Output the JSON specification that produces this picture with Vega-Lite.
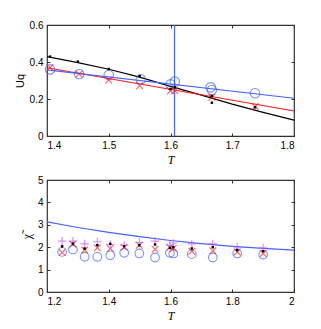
{
  "$schema": "https://vega.github.io/schema/vega-lite/v6.json",
  "padding": {"left": 13, "top": 19, "right": 5, "bottom": 5},
  "spacing": 44,
  "bounds": "flush",
  "datasets": {
    "topLines": [
      {"T": 1.4, "U": 0.429, "s": "black"}, {"T": 1.45, "U": 0.397, "s": "black"}, {"T": 1.5, "U": 0.361, "s": "black"},
      {"T": 1.55, "U": 0.318, "s": "black"}, {"T": 1.6, "U": 0.268, "s": "black"}, {"T": 1.65, "U": 0.221, "s": "black"},
      {"T": 1.7, "U": 0.172, "s": "black"}, {"T": 1.75, "U": 0.128, "s": "black"}, {"T": 1.8, "U": 0.086, "s": "black"},
      {"T": 1.4, "U": 0.369, "s": "red"}, {"T": 1.8, "U": 0.135, "s": "red"},
      {"T": 1.4, "U": 0.357, "s": "blue"}, {"T": 1.8, "U": 0.204, "s": "blue"}
    ],
    "topRule": [{"T": 1.6065}],
    "topPts": [
      {"T": 1.405, "U": 0.429, "s": "dot"}, {"T": 1.45, "U": 0.402, "s": "dot"}, {"T": 1.5, "U": 0.362, "s": "dot"},
      {"T": 1.55, "U": 0.324, "s": "dot"}, {"T": 1.6, "U": 0.254, "s": "dot"}, {"T": 1.607, "U": 0.263, "s": "dot"},
      {"T": 1.667, "U": 0.216, "s": "dot"}, {"T": 1.667, "U": 0.18, "s": "dot"}, {"T": 1.737, "U": 0.155, "s": "dot"},
      {"T": 1.405, "U": 0.37, "s": "x"}, {"T": 1.452, "U": 0.335, "s": "x"}, {"T": 1.5, "U": 0.303, "s": "x"},
      {"T": 1.55, "U": 0.272, "s": "x"}, {"T": 1.6, "U": 0.245, "s": "x"}, {"T": 1.607, "U": 0.245, "s": "x"},
      {"T": 1.667, "U": 0.209, "s": "x"}, {"T": 1.737, "U": 0.159, "s": "x"},
      {"T": 1.405, "U": 0.36, "s": "o"}, {"T": 1.452, "U": 0.335, "s": "o"}, {"T": 1.5, "U": 0.33, "s": "o"},
      {"T": 1.552, "U": 0.306, "s": "o"}, {"T": 1.6, "U": 0.279, "s": "o"}, {"T": 1.607, "U": 0.294, "s": "o"},
      {"T": 1.665, "U": 0.263, "s": "o"}, {"T": 1.667, "U": 0.249, "s": "o"}, {"T": 1.737, "U": 0.231, "s": "o"}
    ],
    "botLine": [
      {"T": 1.2, "C": 3.13}, {"T": 1.3, "C": 2.88}, {"T": 1.4, "C": 2.66}, {"T": 1.5, "C": 2.47}, {"T": 1.6, "C": 2.3},
      {"T": 1.7, "C": 2.16}, {"T": 1.8, "C": 2.04}, {"T": 1.9, "C": 1.95}, {"T": 2.0, "C": 1.87}
    ],
    "botPts": [
      {"T": 1.249, "C": 2.27, "s": "plus"}, {"T": 1.284, "C": 2.27, "s": "plus"}, {"T": 1.322, "C": 2.15, "s": "plus"},
      {"T": 1.363, "C": 2.24, "s": "plus"}, {"T": 1.405, "C": 2.12, "s": "plus"}, {"T": 1.45, "C": 2.09, "s": "plus"},
      {"T": 1.499, "C": 2.21, "s": "plus"}, {"T": 1.55, "C": 2.27, "s": "plus"}, {"T": 1.598, "C": 2.09, "s": "plus"},
      {"T": 1.609, "C": 2.19, "s": "plus"}, {"T": 1.669, "C": 2.15, "s": "plus"}, {"T": 1.737, "C": 2.15, "s": "plus"},
      {"T": 1.816, "C": 2.01, "s": "plus"}, {"T": 1.9, "C": 1.97, "s": "plus"},
      {"T": 1.249, "C": 2.04, "s": "dot"}, {"T": 1.284, "C": 2.16, "s": "dot"}, {"T": 1.322, "C": 1.94, "s": "dot"},
      {"T": 1.363, "C": 2.09, "s": "dot"}, {"T": 1.405, "C": 2.15, "s": "dot"}, {"T": 1.45, "C": 2.04, "s": "dot"},
      {"T": 1.499, "C": 2.09, "s": "dot"}, {"T": 1.55, "C": 2.12, "s": "dot"}, {"T": 1.598, "C": 1.97, "s": "dot"},
      {"T": 1.609, "C": 2.0, "s": "dot"}, {"T": 1.669, "C": 1.94, "s": "dot"}, {"T": 1.737, "C": 2.0, "s": "dot"},
      {"T": 1.816, "C": 1.87, "s": "dot"}, {"T": 1.9, "C": 1.82, "s": "dot"},
      {"T": 1.249, "C": 1.76, "s": "x"}, {"T": 1.284, "C": 2.13, "s": "x"}, {"T": 1.322, "C": 1.87, "s": "x"},
      {"T": 1.363, "C": 1.97, "s": "x"}, {"T": 1.405, "C": 1.94, "s": "x"}, {"T": 1.45, "C": 2.0, "s": "x"},
      {"T": 1.499, "C": 2.09, "s": "x"}, {"T": 1.55, "C": 1.91, "s": "x"}, {"T": 1.598, "C": 2.0, "s": "x"},
      {"T": 1.609, "C": 1.94, "s": "x"}, {"T": 1.669, "C": 1.82, "s": "x"}, {"T": 1.737, "C": 1.84, "s": "x"},
      {"T": 1.816, "C": 1.79, "s": "x"}, {"T": 1.9, "C": 1.72, "s": "x"},
      {"T": 1.249, "C": 1.79, "s": "o"}, {"T": 1.284, "C": 1.9, "s": "o"}, {"T": 1.322, "C": 1.57, "s": "o"},
      {"T": 1.363, "C": 1.57, "s": "o"}, {"T": 1.405, "C": 1.64, "s": "o"}, {"T": 1.45, "C": 1.75, "s": "o"},
      {"T": 1.499, "C": 1.72, "s": "o"}, {"T": 1.55, "C": 1.54, "s": "o"}, {"T": 1.598, "C": 1.75, "s": "o"},
      {"T": 1.609, "C": 1.72, "s": "o"}, {"T": 1.669, "C": 1.69, "s": "o"}, {"T": 1.737, "C": 1.54, "s": "o"},
      {"T": 1.816, "C": 1.72, "s": "o"}, {"T": 1.9, "C": 1.67, "s": "o"}
    ]
  },
  "vconcat": [
    {
      "width": 247, "height": 111,
      "resolve": {"axis": {"x": "independent", "y": "independent"}},
      "layer": [
        {
          "data": {"name": "topLines"},
          "mark": {"type": "line", "strokeWidth": 1.2},
          "encoding": {
            "x": {"field": "T", "type": "quantitative", "scale": {"domain": [1.4, 1.8], "nice": false},
                  "axis": {"values": [1.4, 1.5, 1.6, 1.7, 1.8], "title": "T", "titleFont": "Liberation Serif", "titleFontStyle": "italic", "titleFontSize": 12}},
            "y": {"field": "U", "type": "quantitative", "scale": {"domain": [0, 0.6], "nice": false},
                  "axis": {"values": [0, 0.2, 0.4, 0.6], "title": "Uq"}},
            "color": {"field": "s", "type": "nominal", "scale": {"domain": ["black", "red", "blue"], "range": ["#000000", "#ff1a1a", "#4466ff"]}, "legend": null},
            "detail": {"field": "s"}
          }
        },
        {
          "data": {"name": "topRule"},
          "mark": {"type": "rule", "color": "#4466ff", "strokeWidth": 1.2},
          "encoding": {"x": {"field": "T", "type": "quantitative", "axis": {"orient": "top", "labels": false, "title": null, "values": [1.4, 1.5, 1.6, 1.7, 1.8]}}}
        },
        {
          "data": {"name": "topPts"},
          "transform": [{"filter": "datum.s === 'o'"}],
          "mark": {"type": "point", "shape": "circle", "filled": false, "color": "#4466ff", "size": 90, "strokeWidth": 1.1},
          "encoding": {
            "x": {"field": "T", "type": "quantitative", "axis": null},
            "y": {"field": "U", "type": "quantitative", "axis": {"orient": "right", "labels": false, "title": null, "values": [0, 0.2, 0.4, 0.6]}}
          }
        },
        {
          "data": {"name": "topPts"},
          "transform": [{"filter": "datum.s === 'x'"}],
          "mark": {"type": "point", "shape": "M-1,-1L1,1M-1,1L1,-1", "filled": false, "color": "#ff1a1a", "size": 45, "strokeWidth": 1.1},
          "encoding": {"x": {"field": "T", "type": "quantitative", "axis": null}, "y": {"field": "U", "type": "quantitative", "axis": null}}
        },
        {
          "data": {"name": "topPts"},
          "transform": [{"filter": "datum.s === 'dot'"}],
          "mark": {"type": "point", "shape": "square", "filled": true, "color": "#000000", "size": 6, "opacity": 1},
          "encoding": {"x": {"field": "T", "type": "quantitative", "axis": null}, "y": {"field": "U", "type": "quantitative", "axis": null}}
        }
      ]
    },
    {
      "width": 247, "height": 112,
      "resolve": {"axis": {"x": "independent", "y": "independent"}},
      "layer": [
        {
          "data": {"name": "botLine"},
          "mark": {"type": "line", "color": "#4466ff", "strokeWidth": 1.2},
          "encoding": {
            "x": {"field": "T", "type": "quantitative", "scale": {"domain": [1.2, 2], "nice": false},
                  "axis": {"values": [1.2, 1.4, 1.6, 1.8, 2], "title": "T", "titleFont": "Liberation Serif", "titleFontStyle": "italic", "titleFontSize": 12}},
            "y": {"field": "C", "type": "quantitative", "scale": {"domain": [0, 5], "nice": false},
                  "axis": {"values": [0, 1, 2, 3, 4, 5], "title": "χ̃", "titleFont": "Liberation Serif", "titleFontSize": 12}}
          }
        },
        {
          "data": {"name": "botPts"},
          "transform": [{"filter": "datum.s === 'o'"}],
          "mark": {"type": "point", "shape": "circle", "filled": false, "color": "#4466ff", "size": 75, "strokeWidth": 1.1},
          "encoding": {
            "x": {"field": "T", "type": "quantitative", "axis": {"orient": "top", "labels": false, "title": null, "values": [1.2, 1.4, 1.6, 1.8, 2]}},
            "y": {"field": "C", "type": "quantitative", "axis": {"orient": "right", "labels": false, "title": null, "values": [0, 1, 2, 3, 4, 5]}}
          }
        },
        {
          "data": {"name": "botPts"},
          "transform": [{"filter": "datum.s === 'x'"}],
          "mark": {"type": "point", "shape": "M-1,-1L1,1M-1,1L1,-1", "filled": false, "color": "#ff1a1a", "size": 45, "strokeWidth": 1.1},
          "encoding": {"x": {"field": "T", "type": "quantitative", "axis": null}, "y": {"field": "C", "type": "quantitative", "axis": null}}
        },
        {
          "data": {"name": "botPts"},
          "transform": [{"filter": "datum.s === 'plus'"}],
          "mark": {"type": "point", "shape": "M-1,0L1,0M0,-1L0,1", "filled": false, "color": "#cc55ff", "size": 70, "strokeWidth": 1.1},
          "encoding": {"x": {"field": "T", "type": "quantitative", "axis": null}, "y": {"field": "C", "type": "quantitative", "axis": null}}
        },
        {
          "data": {"name": "botPts"},
          "transform": [{"filter": "datum.s === 'dot'"}],
          "mark": {"type": "point", "shape": "square", "filled": true, "color": "#000000", "size": 6, "opacity": 1},
          "encoding": {"x": {"field": "T", "type": "quantitative", "axis": null}, "y": {"field": "C", "type": "quantitative", "axis": null}}
        }
      ]
    }
  ],
  "config": {
    "view": {"stroke": "#333333", "strokeWidth": 1.2},
    "axis": {
      "domain": false, "grid": false, "ticks": true, "tickSize": -3, "tickColor": "#333333",
      "labelFont": "Liberation Sans", "labelFontSize": 10, "labelColor": "#000000", "labelPadding": 7,
      "format": "~g", "titleFont": "Liberation Sans", "titleFontSize": 11, "titleFontWeight": "normal", "titleColor": "#000000"
    }
  }
}
